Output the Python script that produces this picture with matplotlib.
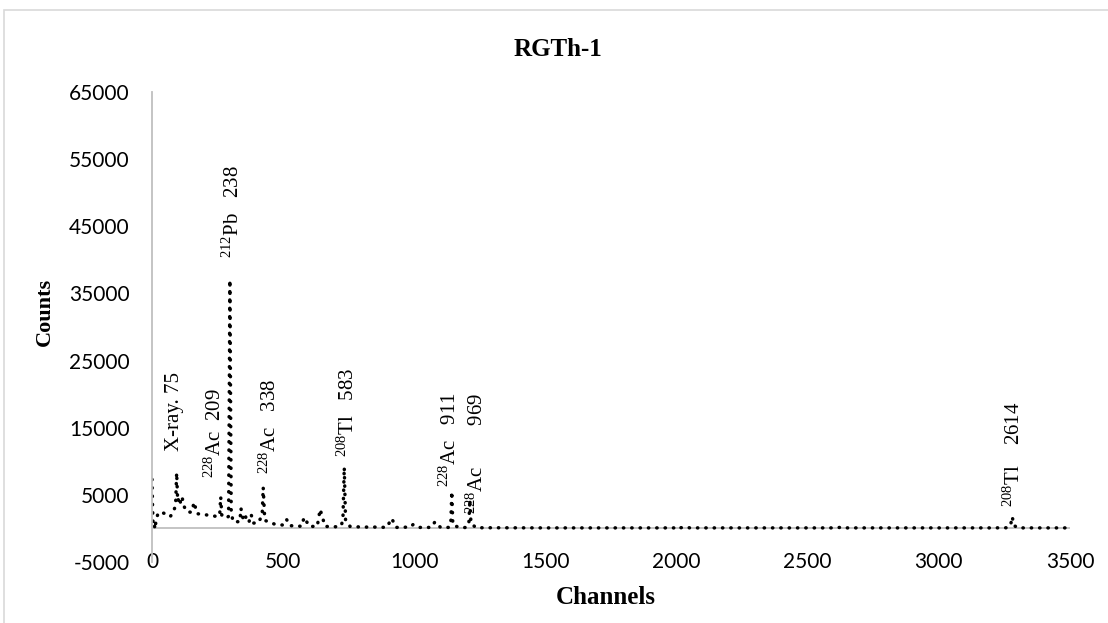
import matplotlib
matplotlib.use('Agg')
import matplotlib.pyplot as plt
from matplotlib.patches import Rectangle

plt.rcParams['mathtext.fontset'] = 'custom'
plt.rcParams['mathtext.rm'] = 'Liberation Serif'
plt.rcParams['mathtext.it'] = 'Liberation Serif:italic'

# spectrum (channel, counts)
channels = [0, 2, 4, 8, 11, 15, 23, 35, 50, 69, 81, 90, 94, 98, 104, 110, 116, 122,
            132, 150, 161, 171, 190, 210, 230, 250, 258, 262, 266, 282, 292, 297, 302,
            309, 335, 339, 347, 355, 362, 370, 378, 386, 404, 414, 420, 424, 430, 450,
            470, 500, 513, 525, 550, 570, 580, 600, 630, 641, 660, 700, 722, 728, 733,
            738, 755, 800, 850, 895, 914, 930, 985, 996, 1020, 1065, 1079, 1100, 1130,
            1139, 1143, 1147, 1175, 1200, 1208, 1212, 1216, 1235, 1300, 1500, 1800,
            1990, 2000, 2010, 2040, 2050, 2300, 2600, 2640, 2650, 2900, 3200, 3265,
            3275, 3280, 3285, 3300, 3500]
counts = [7300, 3500, 800, 1000, -100, 1000, 2300, 2400, 2200, 1750, 2350, 3500, 8300,
          4000, 4700, 3600, 4400, 3300, 2500, 2400, 3900, 2200, 2100, 2000, 1900, 1750,
          2000, 4700, 2000, 1500, 1800, 37000, 2500, 1000, 1000, 3000, 1500, 2100, 900,
          1000, 2100, 800, 800, 1500, 2000, 6100, 1200, 900, 600, 500, 1350, 400, 400,
          300, 1650, 300, 300, 2850, 300, 250, 400, 1500, 9100, 1200, 300, 200, 200,
          150, 1500, 150, 200, 600, 150, 150, 1000, 150, 150, 500, 5500, 500, 100, 150,
          700, 4300, 800, 100, 100, 80, 80, 80, 300, 80, 200, 80, 80, 80, 200, 80, 80,
          80, 100, 800, 1750, 500, 80, 80]

# peak labels: (text, channel, top of label)
labels = [
    ('X-ray. 75', 84, 23300),
    ('$^{228}$Ac  209', 240, 20900),
    ('$^{212}$Pb   238', 309, 54100),
    ('$^{228}$Ac   338', 450, 22200),
    ('$^{208}$Tl   583', 747, 24000),
    ('$^{228}$Ac   911', 1136, 20200),
    ('$^{228}$Ac        969', 1239, 20200),
    ('$^{208}$Tl    2614', 3287, 18900),
]

yticks = list(range(-5000, 65001, 10000))
xticks = list(range(0, 3501, 500))

fig = plt.figure(figsize=(11.08, 6.23), dpi=100)
ax = fig.add_axes([152/1108, 1-562/623, 918/1108, 470/623])

ax.plot(channels, counts, color='black', lw=2.5, linestyle=(0, (0.1, 2.3)),
        dash_capstyle='round')
ax.axhline(0, color='#bfbfbf', lw=1.3, zorder=0)

ax.set_xlim(0, 3500)
ax.set_ylim(-5000, 65000)
ax.set_xticks(xticks)
ax.set_yticks(yticks)
ax.set_xticklabels([str(v) for v in xticks], family='Lato', fontsize=15)
ax.set_yticklabels([str(v) for v in yticks], family='Lato', fontsize=15)
ax.tick_params(axis='both', length=0)
ax.tick_params(axis='y', pad=16)
ax.tick_params(axis='x', pad=-7)

for side in ['top', 'right', 'bottom']:
    ax.spines[side].set_visible(False)
ax.spines['left'].set_color('#bfbfbf')
ax.spines['left'].set_linewidth(1.3)

for text, ch, ytop in labels:
    ax.text(ch, ytop, text, rotation=90, ha='center', va='top',
            family='Liberation Serif', fontsize=15)

fig.text(558/1108, 1-49/623, 'RGTh-1', ha='center', va='center',
         family='Liberation Serif', weight='bold', fontsize=18)
fig.text(606/1108, 1-597/623, 'Channels', ha='center', va='center',
         family='Liberation Serif', weight='bold', fontsize=18)
fig.text(45/1108, 1-312/623, 'Counts', ha='center', va='center', rotation=90,
         family='Liberation Serif', weight='bold', fontsize=16)

# outer chart frame
fig.patches.append(Rectangle((4/1108, -0.05), 1.1, 1-10/623+0.05,
                             transform=fig.transFigure, fill=False,
                             edgecolor='#d9d9d9', lw=1.2))

fig.savefig('out.png', dpi=100)
